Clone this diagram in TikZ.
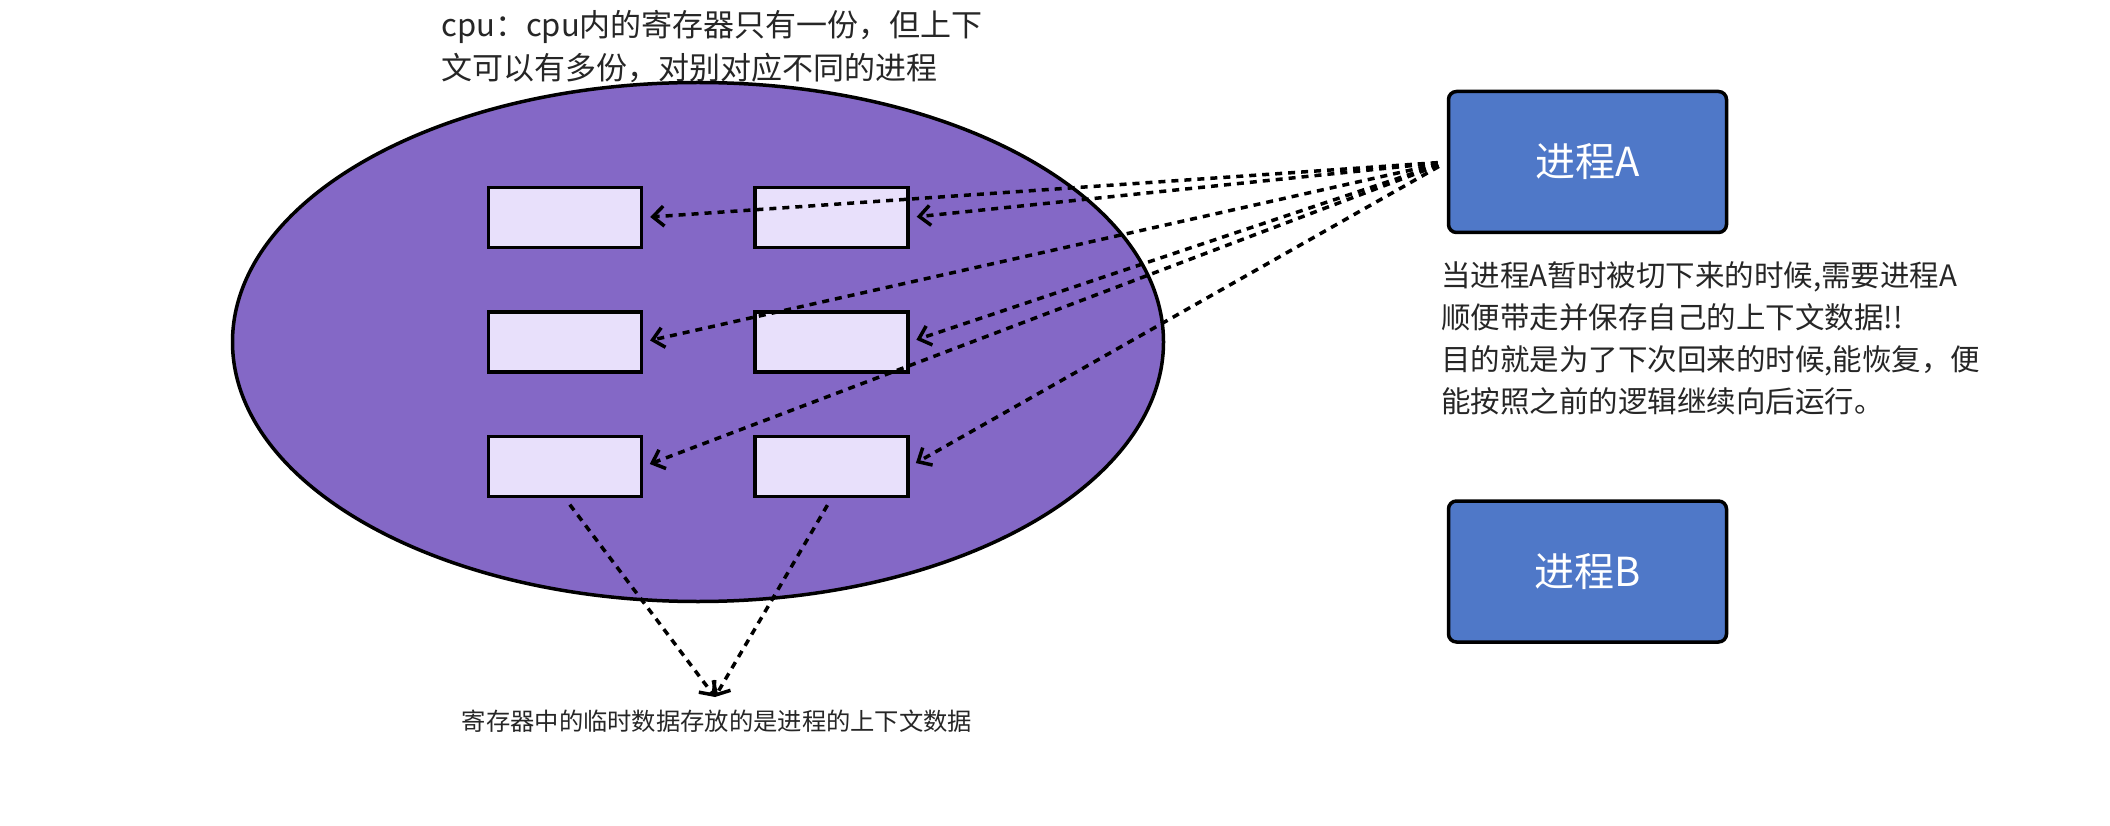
\documentclass[tikz,border=0pt]{standalone}
\usepackage{fontspec}
\setmainfont{Noto Sans CJK SC}
\usetikzlibrary{shapes, arrows.meta, positioning}
\definecolor{cpufill}{HTML}{8468C6}
\definecolor{procfill}{HTML}{4F78C8}
\definecolor{regfill}{HTML}{E8E0FB}
\tikzstyle{reg} = [draw, fill=regfill, rectangle, line width=3.5pt, minimum width=153pt, minimum height=60pt]
\tikzstyle{proc} = [draw, fill=procfill, rectangle, rounded corners=8pt, line width=3.5pt, minimum width=278pt, minimum height=141pt, text=white, font=\fontsize{40}{48}\selectfont]
\tikzstyle{ctx} = [line width=3.5pt, dash pattern=on 7pt off 6pt]
\tikzstyle{note} = [inner sep=0pt, align=left, text=black!85, anchor=north west]

\begin{document}
\begin{tikzpicture}[x=1pt, y=-1pt, >={Straight Barb[length=11pt,width=20pt]}, node distance=61pt and 110pt]
  \useasboundingbox (0,0) rectangle (2110,826);
  \node[note, font=\fontsize{31}{43}\selectfont] (cputext) at (441,10) {cpu：cpu内的寄存器只有一份，但上下\\文可以有多份，对别对应不同的进程};
  \node[draw, fill=cpufill, ellipse, line width=3.5pt, inner sep=0pt, minimum width=931pt, minimum height=519pt] (cpu) at (698,342) {};
  % registers
  \node[reg] (r11) at (565,217.5) {};
  \node[reg, right=of r11] (r12) {};
  \node[reg, below=of r11] (r21) {};
  \node[reg, right=of r21] (r22) {};
  \node[reg, below=of r21] (r31) {};
  \node[reg, right=of r31] (r32) {};
  % processes
  \node[proc] (procA) at (1587.5,162) {进程A};
  \node[proc, below=265pt of procA] (procB) {进程B};
  \node[note, font=\fontsize{29.5}{42}\selectfont] (switchnote) at (1441,261) {当进程A暂时被切下来的时候,需要进程A\\顺便带走并保存自己的上下文数据!!\\目的就是为了下次回来的时候,能恢复，便\\能按照之前的逻辑继续向后运行。};
  \node[inner sep=0pt, text=black!85, font=\fontsize{24.3}{30}\selectfont] (tmpnote) at (717,721) {寄存器中的临时数据存放的是进程的上下文数据};
  \coordinate (meet) at (715,697);
  \draw[ctx, ->, shorten <=9pt, shorten >=7pt] (procA.west) -- (r11.east);
  \draw[ctx, ->, shorten <=9pt, shorten >=7pt] (procA.west) -- (r12.east);
  \draw[ctx, ->, shorten <=9pt, shorten >=7pt] (procA.west) -- (r21.east);
  \draw[ctx, ->, shorten <=9pt, shorten >=7pt] (procA.west) -- (r22.east);
  \draw[ctx, ->, shorten <=9pt, shorten >=7pt] (procA.west) -- (r31.east);
  \draw[ctx, ->, shorten <=9pt, shorten >=7pt] (procA.west) -- (r32.east);
  \draw[ctx, ->, shorten <=8pt] (r31.south) -- (meet);
  \draw[ctx, ->, shorten <=8pt] (r32.south) -- (meet);
\end{tikzpicture}
\end{document}
